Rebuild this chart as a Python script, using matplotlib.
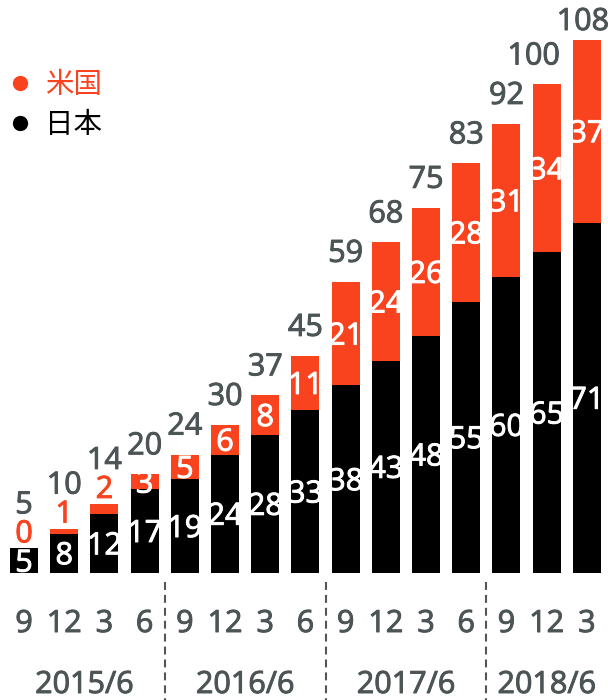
import matplotlib
matplotlib.use('Agg')
import matplotlib.pyplot as plt
from matplotlib.lines import Line2D
import matplotlib.patheffects as pe

# ---- data ----
months = ['9', '12', '3', '6', '9', '12', '3', '6', '9', '12', '3', '6', '9', '12', '3']
years = ['2015/6', '2016/6', '2017/6', '2018/6']
year_start = [0, 4, 8, 12]
japan = [5, 8, 12, 17, 19, 24, 28, 33, 38, 43, 48, 55, 60, 65, 71]
us = [0, 1, 2, 3, 5, 6, 8, 11, 21, 24, 26, 28, 31, 34, 37]
totals = [5, 10, 14, 20, 24, 30, 37, 45, 59, 68, 75, 83, 92, 100, 108]
series_names = ['米国', '日本']

# ---- style ----
ORANGE = '#F9431F'
BLACK = '#000000'
GREY = '#4D5456'
NUM_FONT = ['Open Sans', 'DejaVu Sans']
CJK_FONT = ['Noto Sans CJK JP', 'DejaVu Sans']
FS = 22
total_dx_px = [0] * 13 + [-13, -4]   # label nudges to avoid overlap


def bold(c):
    return [pe.withStroke(linewidth=0.7, foreground=c)]


W, H = 608, 700
fig = plt.figure(figsize=(W / 100, H / 100), dpi=100)
base_px = 573            # baseline, px from top
ax = fig.add_axes([0, (H - base_px) / H, 1, base_px / H])
pitch = 40.2
x0 = 24
ax.set_xlim(-x0 / pitch, (W - x0) / pitch)
ppu = 4.935                       # px per data unit
ymax = base_px / ppu
ax.set_ylim(0, ymax)
ax.axis('off')

n = len(japan)
xs = list(range(n))
ax.bar(xs, japan, width=0.70, color=BLACK, linewidth=0)
ax.bar(xs, us, bottom=japan, width=0.70, color=ORANGE, linewidth=0)

px2pt = 0.72
half_digit = 0.357 * FS   # points

for i in xs:
    j, u, t = japan[i], us[i], totals[i]
    top = j + u
    ax.annotate(str(j), (i, j / 2), xytext=(0, -half_digit), textcoords='offset points',
                ha='center', va='baseline', color='white', fontsize=FS, family=NUM_FONT,
                path_effects=bold('white'))
    if u >= 3:
        ax.annotate(str(u), (i, j + u / 2), xytext=(0, -half_digit), textcoords='offset points',
                    ha='center', va='baseline', color='white', fontsize=FS, family=NUM_FONT,
                    path_effects=bold('white'))
        off_px = 20
    else:
        ax.annotate(str(u), (i, top), xytext=(0, 6 * px2pt), textcoords='offset points',
                    ha='center', va='baseline', color=ORANGE, fontsize=FS, family=NUM_FONT,
                    path_effects=bold(ORANGE))
        off_px = 35
    ty = min(top + off_px / ppu, ymax - 30 / ppu)
    ax.annotate(str(t), (i, ty), xytext=(total_dx_px[i] * px2pt, 0), textcoords='offset points',
                ha='center', va='baseline', color=GREY, fontsize=FS, family=NUM_FONT,
                path_effects=bold(GREY))

# month tick labels
tr = ax.get_xaxis_transform()
for i, m in enumerate(months):
    ax.text(i, -59 / base_px, m, transform=tr, ha='center', va='baseline',
            color=GREY, fontsize=FS, family=NUM_FONT, clip_on=False,
            path_effects=bold(GREY))

# year labels & separators
ends = year_start[1:] + [n]
for k, yl in enumerate(years):
    c = (year_start[k] + ends[k] - 1) / 2
    ax.text(c, -120 / base_px, yl, transform=tr, ha='center', va='baseline',
            color=GREY, fontsize=FS, family=NUM_FONT, clip_on=False,
            path_effects=bold(GREY))
for s in year_start[1:]:
    ax.plot([s - 0.5, s - 0.5], [-9 / base_px, -127 / base_px], transform=tr,
            color='#555555', linewidth=1.5, linestyle=(0, (3.8, 2.4)), clip_on=False)

# legend
leg_colors = [ORANGE, BLACK]
leg_y = [83, 123]
for name, col, yy in zip(series_names, leg_colors, leg_y):
    fig.add_artist(Line2D([20 / W], [1 - yy / H], marker='o', markersize=10,
                          color=col, linestyle='', transform=fig.transFigure))
    fig.text(45 / W, 1 - (yy + 2) / H, name, ha='left', va='center', color=col,
             fontsize=20.5, family=CJK_FONT)

fig.savefig('out.png', dpi=100)
